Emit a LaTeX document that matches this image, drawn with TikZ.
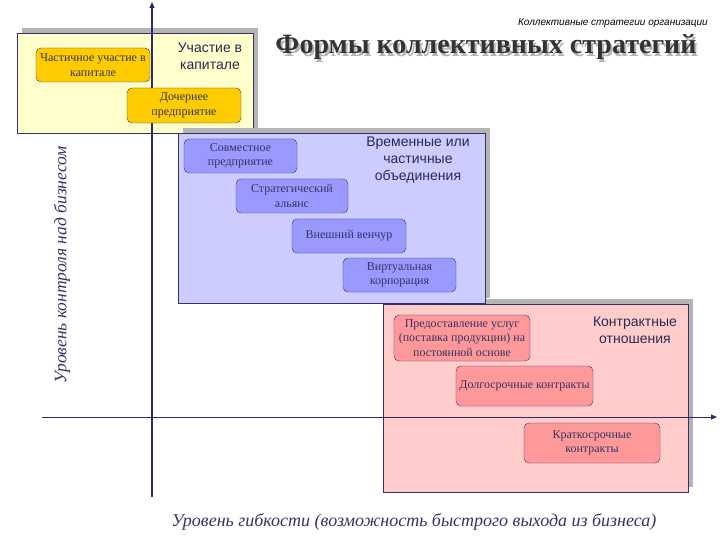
\documentclass[tikz,border=0pt]{standalone}
\usepackage{fontspec}
\setmainfont{Liberation Serif}
\newfontfamily\arialfont{Liberation Sans}
\usetikzlibrary{arrows.meta,shadows}
\definecolor{ink}{HTML}{333366}
\definecolor{axisc}{HTML}{2B2B66}
\definecolor{shade}{HTML}{B4B4B4}
\definecolor{titlec}{HTML}{333333}
\definecolor{capfill}{HTML}{FFFFCC}
\definecolor{capnode}{HTML}{FFCC00}
\definecolor{tmpfill}{HTML}{CCCCFF}
\definecolor{tmpnode}{HTML}{9999FF}
\definecolor{confill}{HTML}{FFCCCC}
\definecolor{connode}{HTML}{FF9999}
\tikzset{
  zone/.style={draw=ink,thin,inner sep=0pt,
    general shadow={shadow xshift=5pt,shadow yshift=5pt,fill=shade}},
  form/.style={draw=ink,rounded corners=5pt,text=ink,align=center,inner sep=0pt,
    font=\fontsize{12}{14.5}\selectfont},
  zlbl/.style={text=ink!80!black,align=center,font=\arialfont\fontsize{14}{17}\selectfont},
  axline/.style={axisc,-{Triangle[length=6pt,width=5pt]}},
  albl/.style={text=ink,font=\itshape\fontsize{18}{20}\selectfont},
  ttl/.style={font=\bfseries\fontsize{28}{30}\selectfont},
}
\begin{document}
\begin{tikzpicture}[x=1pt,y=-1pt]
  \useasboundingbox (0,0) rectangle (720,540);
  % zones
  \node[zone,fill=capfill,minimum width=236pt,minimum height=100pt] (capzone) at (135,83) {};
  \node[zone,fill=confill,minimum width=305pt,minimum height=188pt] (conzone) at (535.5,398) {};
  \node[zone,fill=tmpfill,minimum width=307pt,minimum height=170pt] (tmpzone) at (331.5,218) {};
  % axes
  \coordinate (yfoot) at (152,497);
  \coordinate (ytip) at (152,2);
  \coordinate (xfoot) at (42,417);
  \coordinate (xtip) at (717,417);
  \draw[axline,line width=1.3pt] (yfoot) -- (ytip);
  \draw[axline,line width=0.8pt] (xfoot) -- (xtip);
  % forms
  \node[form,fill=capnode,minimum width=114pt,minimum height=34pt] (partcap) at (93,65) {Частичное участие в\\капитале};
  \node[form,fill=capnode,minimum width=114pt,minimum height=35pt] (subsid) at (184,105.5) {Дочернее\\предприятие};
  \node[form,fill=tmpnode,minimum width=113pt,minimum height=34pt] (jointv) at (240.5,156) {Совместное\\предприятие};
  \node[form,fill=tmpnode,minimum width=112pt,minimum height=34pt] (alliance) at (292,196) {Стратегический\\альянс};
  \node[form,fill=tmpnode,minimum width=114pt,minimum height=34pt] (venture) at (349,236) {Внешний венчур};
  \node[form,fill=tmpnode,minimum width=113pt,minimum height=34pt] (virtcorp) at (399.5,275) {Виртуальная\\корпорация};
  \node[form,fill=connode,minimum width=136pt,minimum height=46pt] (supply) at (462,338) {Предоставление услуг\\(поставка продукции) на\\постоянной основе};
  \node[form,fill=connode,minimum width=137pt,minimum height=40pt] (longc) at (524.5,386) {Долгосрочные контракты};
  \node[form,fill=connode,minimum width=136pt,minimum height=40pt] (shortc) at (592,443) {Краткосрочные\\контракты};
  % zone labels
  \node[zlbl] (caplbl) at (210,56) {Участие в\\капитале};
  \node[zlbl] (tmplbl) at (418,160) {Временные или\\частичные\\объединения};
  \node[zlbl] (conlbl) at (635,330) {Контрактные\\отношения};
  % axis labels
  \node[albl,rotate=90,font=\itshape\fontsize{17.5}{19}\selectfont] (ylbl) at (62,265) {Уровень контроля над бизнесом};
  \node[albl] (xlbl) at (414,522) {Уровень гибкости (возможность быстрого выхода из бизнеса)};
  % title and header
  \node[ttl,text=shade] (titlesh) at (488,50) {Формы коллективных стратегий};
  \node[ttl,text=titlec] (title) at (486,47) {Формы коллективных стратегий};
  \node[anchor=east,inner sep=0pt,font=\arialfont\itshape\fontsize{10}{11}\selectfont] (header) at (708,23) {Коллективные стратегии организации};
  \coordinate (hl) at (484,33);
  \coordinate (hr) at (709,33);
  \draw[double,double distance=1.2pt,thin] (hl) -- (hr);
\end{tikzpicture}
\end{document}
